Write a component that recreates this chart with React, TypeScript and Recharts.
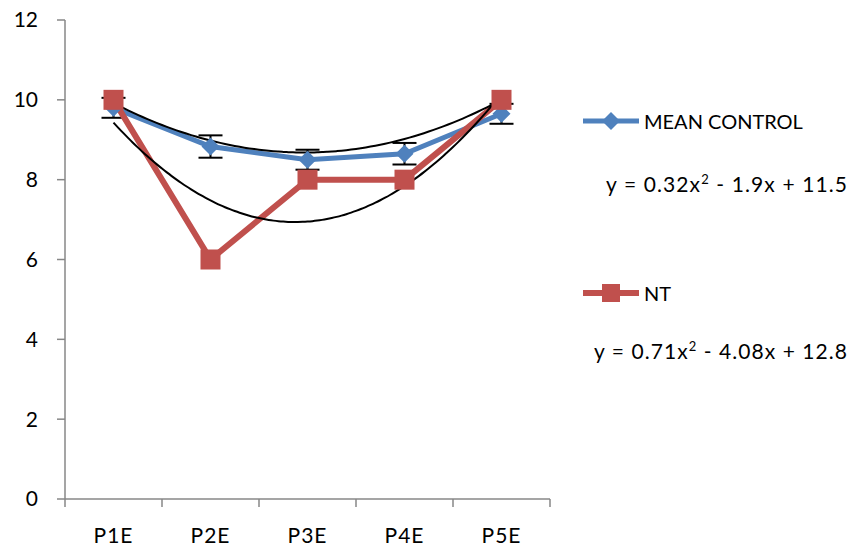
import React from "react";
import { LineChart, Line, XAxis, YAxis, ErrorBar } from "recharts";

const categories = ["P1E", "P2E", "P3E", "P4E", "P5E"];
const meanControl = [9.8, 8.83, 8.5, 8.65, 9.65];
const meanControlErr = [0.25, 0.28, 0.25, 0.27, 0.25];
const nt = [10, 6, 8, 8, 10];
// polynomial trendlines: [x², x, constant]
const meanTrendCoef = [0.32, -1.9, 11.5];
const ntTrendCoef = [0.71, -4.08, 12.8];
const yTicks = [0, 2, 4, 6, 8, 10, 12];

const BLUE = "#4F81BD";
const RED = "#C0504D";
const AXIS = "#878787";
const FONT = "Lato, 'Noto Sans', sans-serif";

const W = 851;
const H = 546;
const PLOT_LEFT = 65;
const PLOT_RIGHT = 550;
const HALF_CAT = (PLOT_RIGHT - PLOT_LEFT) / categories.length / 2;

const meanData = categories.map((c, i) => ({
  x: i + 1,
  y: meanControl[i],
  err: meanControlErr[i],
}));
const ntData = categories.map((c, i) => ({ x: i + 1, y: nt[i] }));

const trend = (coef: number[]) => {
  const pts = [];
  for (let k = 0; k <= 80; k++) {
    const x = 1 + k * 0.05;
    pts.push({ x, y: coef[0] * x * x + coef[1] * x + coef[2] });
  }
  return pts;
};

const fmt = (coef: number[]) => {
  const sign = (v: number) => (v < 0 ? " - " : " + ");
  return {
    a: `y = ${coef[0]}x`,
    b: `${sign(coef[1])}${Math.abs(coef[1])}x${sign(coef[2])}${Math.abs(coef[2])}`,
  };
};

const boundaryTicks = categories.map((c, i) => i + 0.5).concat(categories.length + 0.5);

const CategoryTick = (props: any) => {
  const { x, y, index } = props;
  if (index >= categories.length) return <g />;
  return (
    <text
      x={x + HALF_CAT}
      y={y + 15}
      textAnchor="middle"
      fill="#000"
      fontSize={21}
      letterSpacing={1}
      fontFamily={FONT}
    >
      {categories[index]}
    </text>
  );
};

const Diamond = (props: any) => {
  const { cx, cy, index } = props;
  const r = 9;
  return (
    <path
      key={`dm-${index}`}
      d={`M${cx},${cy - r}L${cx + r},${cy}L${cx},${cy + r}L${cx - r},${cy}Z`}
      fill={BLUE}
    />
  );
};

const Square = (props: any) => {
  const { cx, cy, index } = props;
  const s = 10;
  return (
    <rect key={`sq-${index}`} x={cx - s} y={cy - s} width={s * 2} height={s * 2} fill={RED} />
  );
};

const Equation = ({ coef, x, y, len }: { coef: number[]; x: number; y: number; len: number }) => {
  const t = fmt(coef);
  return (
    <text x={x} y={y} fill="#000" fontSize={21} textLength={len} lengthAdjust="spacing">
      {t.a}
      <tspan dy={-8} fontSize={13}>2</tspan>
      <tspan dy={8}>{t.b}</tspan>
    </text>
  );
};

function SideLegend() {
  return (
    <svg
      width={W}
      height={H}
      style={{ position: "absolute", left: 0, top: 0, pointerEvents: "none" }}
      fontFamily={FONT}
      fontSize={20}
    >
      <line x1={583} x2={639} y1={121} y2={121} stroke={BLUE} strokeWidth={5} />
      <path d="M611,112L620,121L611,130L602,121Z" fill={BLUE} />
      <text x={644} y={129} fill="#000">MEAN CONTROL</text>
      <Equation coef={meanTrendCoef} x={606} y={192} len={241} />

      <line x1={583} x2={639} y1={293} y2={293} stroke={RED} strokeWidth={6} />
      <rect x={602} y={284} width={18} height={18} fill={RED} />
      <text x={644} y={301} fill="#000">NT</text>
      <Equation coef={ntTrendCoef} x={594} y={359} len={253} />
    </svg>
  );
}

export default function App() {
  return (
    <div style={{ position: "absolute", left: 0, top: 0, width: W, height: H, background: "#fff" }}>
      <LineChart width={W} height={H} margin={{ top: 20, right: W - PLOT_RIGHT, bottom: 0, left: 0 }}>
        <XAxis
          dataKey="x"
          type="number"
          domain={[0.5, categories.length + 0.5]}
          ticks={boundaryTicks}
          interval={0}
          height={47}
          stroke={AXIS}
          strokeWidth={1.5}
          tickSize={8}
          tickMargin={21}
          tick={<CategoryTick />}
        />
        <YAxis
          type="number"
          domain={[0, 12]}
          ticks={yTicks}
          width={PLOT_LEFT}
          stroke={AXIS}
          strokeWidth={1.5}
          tickSize={8}
          tickMargin={19}
          tick={{ fill: "#000", fontSize: 21, fontFamily: FONT }}
        />
        <Line
          data={meanData}
          dataKey="y"
          stroke={BLUE}
          strokeWidth={5}
          dot={<Diamond />}
          activeDot={false}
          isAnimationActive={false}
        >
          <ErrorBar dataKey="err" width={12} stroke="#000" strokeWidth={2} direction="y" />
        </Line>
        <Line
          data={ntData}
          dataKey="y"
          stroke={RED}
          strokeWidth={6}
          dot={<Square />}
          activeDot={false}
          isAnimationActive={false}
        />
        <Line
          data={trend(meanTrendCoef)}
          dataKey="y"
          stroke="#000"
          strokeWidth={2}
          dot={false}
          activeDot={false}
          type="monotone"
          isAnimationActive={false}
        />
        <Line
          data={trend(ntTrendCoef)}
          dataKey="y"
          stroke="#000"
          strokeWidth={2}
          dot={false}
          activeDot={false}
          type="monotone"
          isAnimationActive={false}
        />
      </LineChart>
      <SideLegend />
    </div>
  );
}
